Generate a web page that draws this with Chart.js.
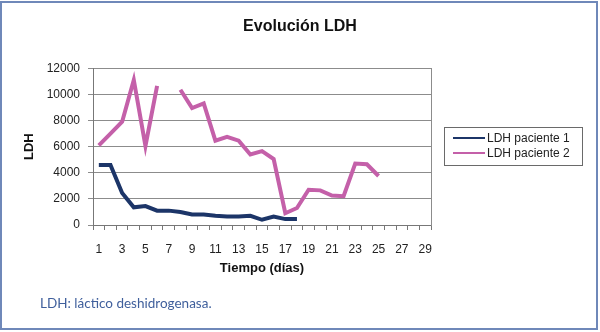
<!DOCTYPE html>
<html>
<head>
<meta charset="utf-8">
<script src="https://cdn.jsdelivr.net/npm/chart.js@4/dist/chart.umd.min.js"></script>
<style>
  html, body { margin: 0; padding: 0; background: #fff; }
  #wrap { position: relative; width: 600px; height: 332px; overflow: hidden; }
  #grafica { position: absolute; left: 0; top: 0; }
  #marco { position: absolute; left: 0; top: 1px; width: 598px; height: 329px; box-sizing: border-box;
           border: 2px solid #6f88b9; pointer-events: none; }
  #nota { position: absolute; left: 40px; top: 295px; font-family: Lato, "Noto Sans", sans-serif;
          font-size: 13.5px; color: #3f5f9c; }
</style>
</head>
<body>
<div id="wrap">
  <canvas id="grafica" width="600" height="280"></canvas>
  <div id="marco"></div>
  <div id="nota">LDH: láctico deshidrogenasa.</div>
</div>
<script>
//Datos
const dias = ['1','2','3','4','5','6','7','8','9','10','11','12','13','14','15','16','17','18','19','20','21','22','23','24','25','26','27','28','29'];
const ldhPaciente1 = [4600, 4600, 2450, 1350, 1450, 1100, 1100, 1000, 800, 800, 700, 650, 650, 700, 400, 650, 450, 450];
const ldhPaciente2 = [6100, 7000, 7900, 11100, 6050, 10650, null, 10350, 8950, 9300, 6450, 6750, 6450, 5400, 5650, 5050, 900, 1300, 2700, 2650, 2250, 2200, 4700, 4650, 3750];
const nombres = ['LDH paciente 1', 'LDH paciente 2'];
const colores = ['#1c3568', '#c460a9'];

const fuente = '"Liberation Sans", Arial, sans-serif';

//Leyenda con recuadro, dibujada a mano
const leyendaRecuadro = {
  id: 'leyendaRecuadro',
  afterDraw(chart) {
    const ctx = chart.ctx;
    ctx.save();
    ctx.strokeStyle = '#6a6a6a';
    ctx.lineWidth = 1;
    ctx.strokeRect(444.5, 127.5, 138, 38);
    ctx.font = '12px ' + fuente;
    ctx.textBaseline = 'middle';
    chart.data.datasets.forEach((ds, i) => {
      const y = 138 + i * 15;
      ctx.strokeStyle = ds.borderColor;
      ctx.lineWidth = 2;
      ctx.beginPath();
      ctx.moveTo(453, y);
      ctx.lineTo(485, y);
      ctx.stroke();
      ctx.fillStyle = '#222';
      ctx.fillText(ds.label, 487, y + 1);
    });
    ctx.restore();
  }
};

const grafica = document.getElementById('grafica');

new Chart(grafica, {
  type: 'line',
  data: {
    labels: dias,
    datasets: [{
      label: nombres[0],
      data: ldhPaciente1,
      borderColor: colores[0],
      backgroundColor: colores[0],
      borderWidth: 4,
      pointRadius: 0,
      fill: false,
      tension: 0
    }, {
      label: nombres[1],
      data: ldhPaciente2,
      borderColor: colores[1],
      backgroundColor: colores[1],
      borderWidth: 4,
      pointRadius: 0,
      fill: false,
      spanGaps: false,
      tension: 0
    }]
  },
  options: {
    responsive: false,
    animation: false,
    layout: { padding: 0 },
    plugins: {
      legend: { display: false },
      tooltip: { enabled: false },
      title: {
        display: true,
        text: 'Evolución LDH',
        color: '#111',
        font: { family: fuente, size: 16, weight: 'bold' },
        padding: { top: 17, bottom: 32 }
      }
    },
    scales: {
      x: {
        offset: true,
        grid: { display: true, drawOnChartArea: false, drawTicks: true, tickLength: 5, color: '#777', offset: true },
        border: { display: true, color: '#777' },
        ticks: {
          autoSkip: false,
          maxRotation: 0,
          padding: 12,
          color: '#222',
          font: { family: fuente, size: 12 },
          callback: function (v, i) { return i % 2 === 0 ? this.getLabelForValue(v) : ''; }
        },
        title: {
          display: true,
          text: 'Tiempo (días)',
          color: '#111',
          font: { family: fuente, size: 13, weight: 'bold' },
          padding: { top: 4, bottom: 4 }
        },
        afterFit: (s) => { s.height = 55; }
      },
      y: {
        min: 0,
        max: 12000,
        ticks: {
          stepSize: 2000,
          padding: 8,
          color: '#222',
          font: { family: fuente, size: 12 },
          callback: (v) => String(v)
        },
        grid: { color: '#8c8c8c', lineWidth: 1, tickLength: 5 },
        border: { display: true, color: '#777' },
        title: {
          display: true,
          text: 'LDH',
          color: '#111',
          font: { family: fuente, size: 13, weight: 'bold' },
          padding: { top: 22 }
        },
        afterFit: (s) => { s.width = 93; }
      },
      margen: {
        position: 'right',
        display: true,
        grid: { display: false },
        ticks: { display: false },
        border: { display: true, color: '#8c8c8c' },
        afterFit: (s) => { s.width = 169; }
      }
    }
  },
  plugins: [leyendaRecuadro]
});
</script>
</body>
</html>
